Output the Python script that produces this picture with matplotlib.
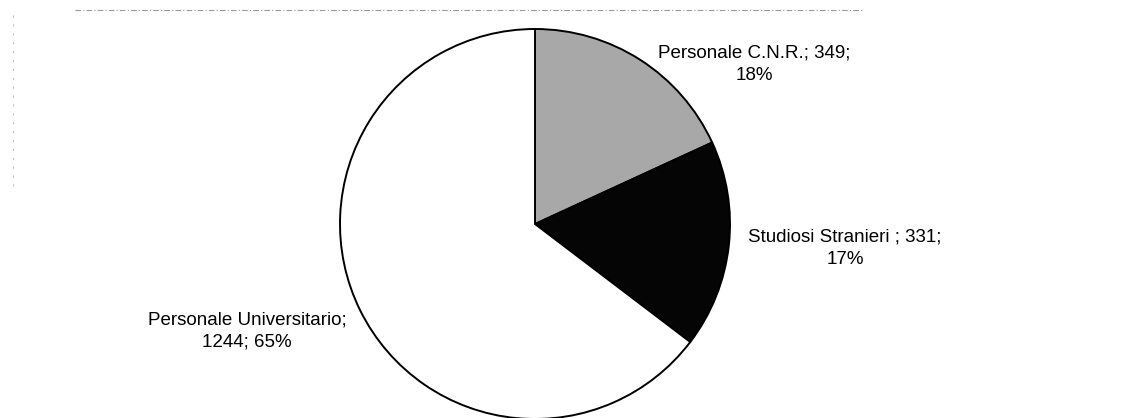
import matplotlib.pyplot as plt

labels = ["Personale C.N.R.", "Studiosi Stranieri ", "Personale Universitario"]
values = [349, 331, 1244]
colors = ["#a8a8a8", "#050505", "#ffffff"]

total = sum(values)
pcts = [round(v / total * 100) for v in values]

W, H = 1121, 418
fig = plt.figure(figsize=(W / 100, H / 100), dpi=100)
ax = fig.add_axes([0, 0, 1, 1])

ax.pie(values, colors=colors, startangle=90, counterclock=False,
       center=(535, H - 224), radius=195, frame=True,
       wedgeprops=dict(edgecolor="black", linewidth=1.4))
ax.set_xlim(0, W)
ax.set_ylim(0, H)
ax.set_aspect("equal")
ax.axis("off")

# faint scan artefacts at the top and left
ax.plot([75, 862], [H - 10, H - 10], color="#9a9a9a", lw=0.8, ls=(0, (5, 2, 1, 2)))
ax.plot([13, 13], [H - 15, H - 190], color="#c0c0c0", lw=0.8, ls=(0, (2, 6)))

font = dict(family=["Liberation Sans", "DejaVu Sans"], fontsize=13.5, ha="center", va="center",
            linespacing=1.45)
ax.text(754, H - 64, f"{labels[0]}; {values[0]};\n{pcts[0]}%", **font)
ax.text(845, H - 248, f"{labels[1]}; {values[1]};\n{pcts[1]}%", **font)
ax.text(247, H - 331, f"{labels[2]};\n{values[2]}; {pcts[2]}%", **font)

fig.savefig("out.png", dpi=100)
